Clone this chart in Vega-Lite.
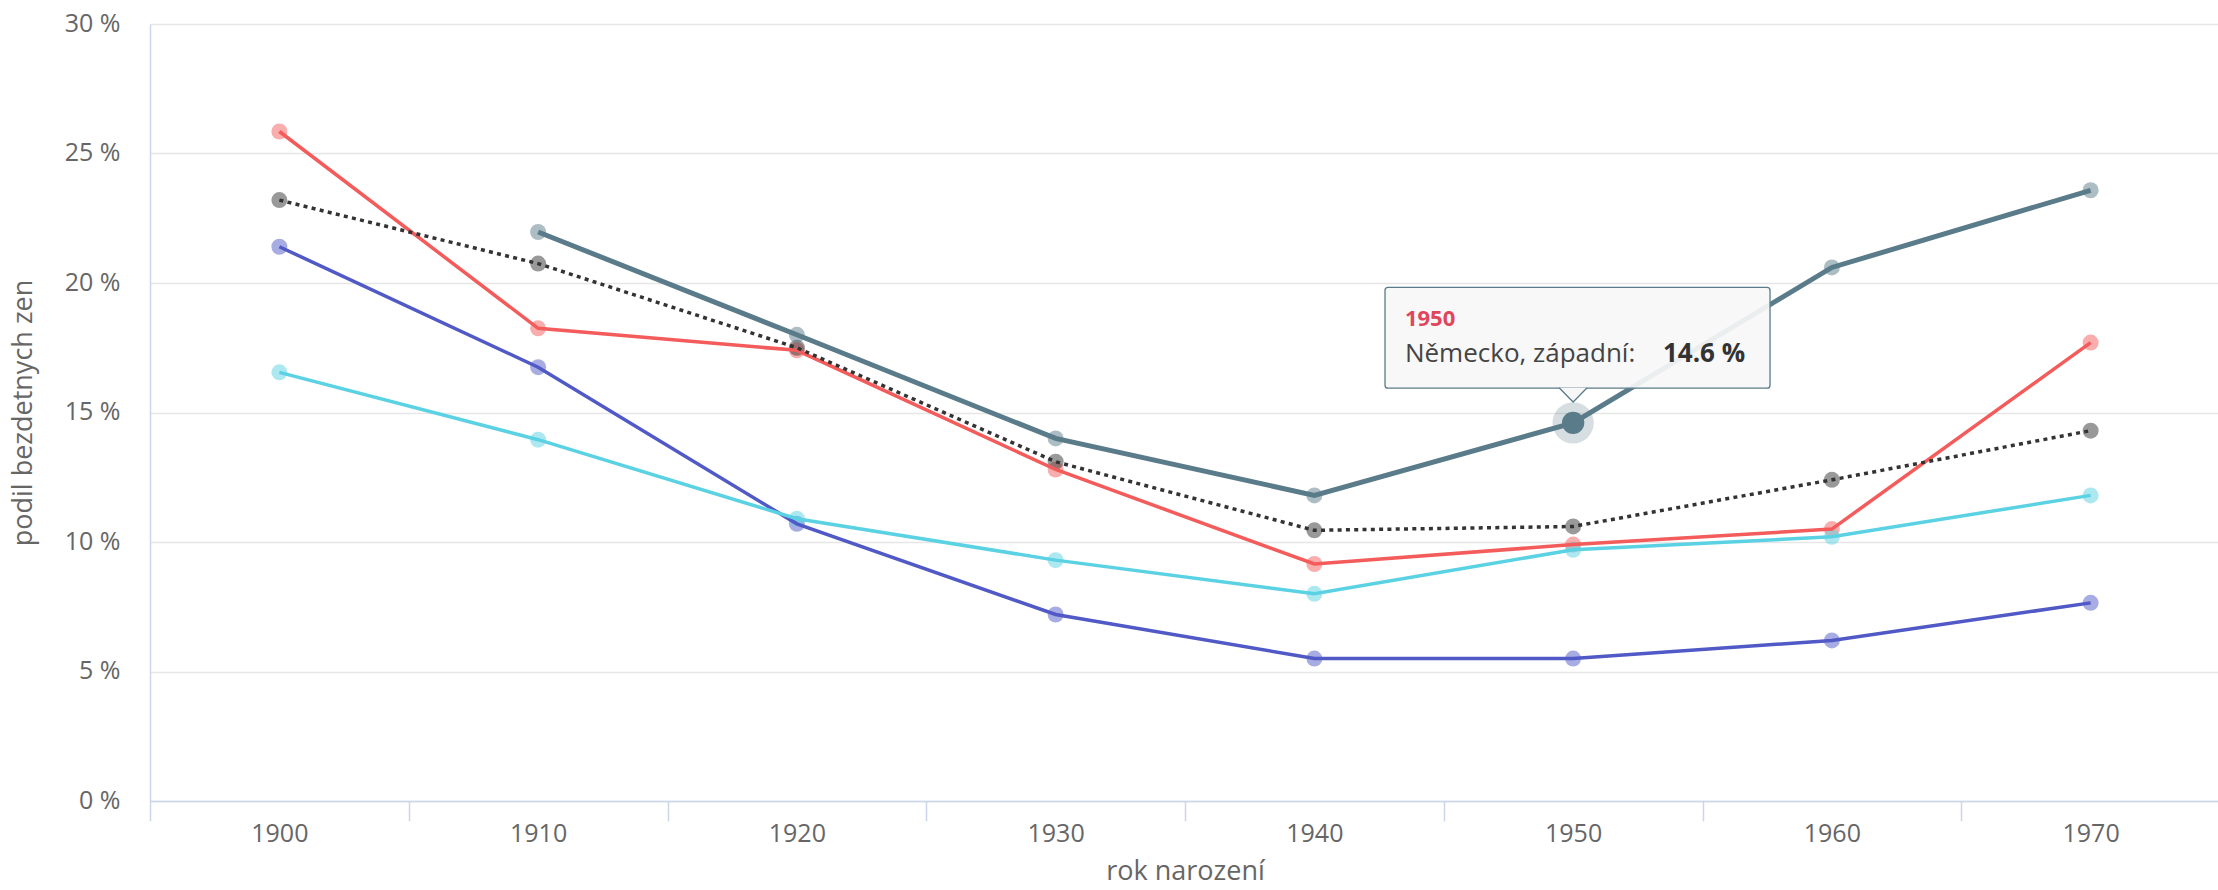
{
  "$schema": "https://vega.github.io/schema/vega-lite/v6.json",
  "width": 2070,
  "height": 777,
  "autosize": {"type": "none"},
  "padding": {"left": 150, "top": 24, "right": 0, "bottom": 89},
  "background": "#ffffff",
  "config": {
    "view": {"stroke": null},
    "font": "Open Sans, sans-serif"
  },
  "datasets": {
    "rows": [
      {"year": 1900, "country": "Francie", "value": 25.85},
      {"year": 1910, "country": "Francie", "value": 18.25},
      {"year": 1920, "country": "Francie", "value": 17.4},
      {"year": 1930, "country": "Francie", "value": 12.8},
      {"year": 1940, "country": "Francie", "value": 9.15},
      {"year": 1950, "country": "Francie", "value": 9.9},
      {"year": 1960, "country": "Francie", "value": 10.5},
      {"year": 1970, "country": "Francie", "value": 17.7},
      {"year": 1900, "country": "Česko", "value": 21.4},
      {"year": 1910, "country": "Česko", "value": 16.75},
      {"year": 1920, "country": "Česko", "value": 10.7},
      {"year": 1930, "country": "Česko", "value": 7.2},
      {"year": 1940, "country": "Česko", "value": 5.5},
      {"year": 1950, "country": "Česko", "value": 5.5},
      {"year": 1960, "country": "Česko", "value": 6.2},
      {"year": 1970, "country": "Česko", "value": 7.65},
      {"year": 1900, "country": "Švédsko", "value": 16.55},
      {"year": 1910, "country": "Švédsko", "value": 13.95},
      {"year": 1920, "country": "Švédsko", "value": 10.9},
      {"year": 1930, "country": "Švédsko", "value": 9.3},
      {"year": 1940, "country": "Švédsko", "value": 8.0},
      {"year": 1950, "country": "Švédsko", "value": 9.7},
      {"year": 1960, "country": "Švédsko", "value": 10.2},
      {"year": 1970, "country": "Švédsko", "value": 11.8},
      {"year": 1900, "country": "průměr", "value": 23.2},
      {"year": 1910, "country": "průměr", "value": 20.75},
      {"year": 1920, "country": "průměr", "value": 17.5},
      {"year": 1930, "country": "průměr", "value": 13.1},
      {"year": 1940, "country": "průměr", "value": 10.45},
      {"year": 1950, "country": "průměr", "value": 10.6},
      {"year": 1960, "country": "průměr", "value": 12.4},
      {"year": 1970, "country": "průměr", "value": 14.3},
      {"year": 1910, "country": "Německo, západní", "value": 21.97},
      {"year": 1920, "country": "Německo, západní", "value": 18.0},
      {"year": 1930, "country": "Německo, západní", "value": 14.0},
      {"year": 1940, "country": "Německo, západní", "value": 11.8},
      {"year": 1950, "country": "Německo, západní", "value": 14.6},
      {"year": 1960, "country": "Německo, západní", "value": 20.6},
      {"year": 1970, "country": "Německo, západní", "value": 23.58}
    ],
    "tipbox": [{"x": 1942.73, "x2": 1957.61, "y": 19.83, "y2": 15.94}],
    "tiparrow": [{"x": 1950, "y": 15.66}],
    "tiptext": [
      {"x": 1943.5, "y": 18.62, "label": "1950", "kind": "head"},
      {"x": 1943.5, "y": 17.27, "label": "Německo, západní:", "kind": "name"},
      {"x": 1953.47, "y": 17.27, "label": "14.6 %", "kind": "val"}
    ]
  },
  "encoding": {
    "x": {
      "field": "year", "type": "quantitative",
      "scale": {"domain": [1895, 1975], "nice": false, "zero": false},
      "axis": {
        "values": [1895, 1900, 1905, 1910, 1915, 1920, 1925, 1930, 1935, 1940, 1945, 1950, 1955, 1960, 1965, 1970, 1975],
        "labelExpr": "datum.value % 10 == 0 ? '' + datum.value : ''",
        "labelOverlap": false,
        "labelFlush": false,
        "grid": false,
        "domainColor": "#ccd6eb",
        "domainWidth": 1.5,
        "tickColor": "#ccd6eb",
        "tickWidth": 1.5,
        "tickSize": 20,
        "tickOpacity": {"condition": {"test": "datum.value % 10 == 0", "value": 0}, "value": 1},
        "labelPadding": 0,
        "labelFontSize": 25,
        "labelColor": "#666666",
        "title": "rok narození",
        "titleFontSize": 27,
        "titleFontWeight": "normal",
        "titleColor": "#666666",
        "titlePadding": 12
      }
    },
    "y": {
      "field": "value", "type": "quantitative",
      "scale": {"domain": [0, 30], "nice": false},
      "axis": {
        "values": [0, 5, 10, 15, 20, 25, 30],
        "labelExpr": "datum.value + ' %'",
        "gridColor": "#e6e6e6",
        "gridWidth": 1.5,
        "domain": true,
        "domainColor": "#ccd6eb",
        "domainWidth": 1.5,
        "ticks": false,
        "labelPadding": 30,
        "labelOffset": -1,
        "labelFontSize": 25,
        "labelColor": "#666666",
        "title": "podil bezdetnych zen",
        "titleFontSize": 27,
        "titleFontWeight": "normal",
        "titleColor": "#666666",
        "titlePadding": 27
      }
    }
  },
  "layer": [
    {
      "data": {"name": "rows"},
      "transform": [{"filter": "datum.country != 'Německo, západní'"}],
      "mark": {"type": "point", "filled": true, "size": 256, "opacity": 0.5},
      "encoding": {
        "color": {"field": "country", "type": "nominal", "legend": null,
          "scale": {"domain": ["Francie", "Česko", "Švédsko", "průměr", "Německo, západní"],
                    "range": ["#f45b5b", "#5059c5", "#5bd2e3", "#333333", "#5a7b89"]}}
      }
    },
    {
      "data": {"name": "rows"},
      "transform": [{"filter": "datum.country != 'Německo, západní' && datum.country != 'průměr'"}],
      "mark": {"type": "line", "strokeWidth": 3.5},
      "encoding": {
        "color": {"field": "country", "type": "nominal", "legend": null}
      }
    },
    {
      "data": {"name": "rows"},
      "transform": [{"filter": "datum.country == 'průměr'"}],
      "mark": {"type": "line", "strokeWidth": 3.5, "strokeDash": [4, 4.3]},
      "encoding": {
        "color": {"field": "country", "type": "nominal", "legend": null}
      }
    },
    {
      "data": {"name": "rows"},
      "transform": [{"filter": "datum.country == 'Německo, západní' && datum.year != 1950"}],
      "mark": {"type": "point", "filled": true, "size": 256, "opacity": 0.5},
      "encoding": {
        "color": {"field": "country", "type": "nominal", "legend": null}
      }
    },
    {
      "data": {"name": "rows"},
      "transform": [{"filter": "datum.country == 'Německo, západní'"}],
      "mark": {"type": "line", "strokeWidth": 5},
      "encoding": {
        "color": {"field": "country", "type": "nominal", "legend": null}
      }
    },
    {
      "data": {"name": "rows"},
      "transform": [{"filter": "datum.country == 'Německo, západní' && datum.year == 1950"}],
      "mark": {"type": "point", "filled": true, "size": 1700, "opacity": 0.25},
      "encoding": {
        "color": {"field": "country", "type": "nominal", "legend": null}
      }
    },
    {
      "data": {"name": "rows"},
      "transform": [{"filter": "datum.country == 'Německo, západní' && datum.year == 1950"}],
      "mark": {"type": "point", "filled": true, "size": 500, "opacity": 1},
      "encoding": {
        "color": {"field": "country", "type": "nominal", "legend": null}
      }
    },
    {
      "data": {"name": "tipbox"},
      "mark": {"type": "rect", "fill": "#f7f7f7", "fillOpacity": 0.92, "stroke": "#5a7b89", "strokeWidth": 1.3, "cornerRadius": 3},
      "encoding": {
        "x": {"field": "x", "type": "quantitative"},
        "x2": {"field": "x2"},
        "y": {"field": "y", "type": "quantitative"},
        "y2": {"field": "y2"}
      }
    },
    {
      "data": {"name": "tiparrow"},
      "mark": {"type": "point", "shape": "M-1,-0.55L0,0.47L1,-0.55", "filled": true, "fill": "#f7f7f7", "fillOpacity": 1, "stroke": "#5a7b89", "strokeWidth": 1.3, "size": 784, "opacity": 1},
      "encoding": {
        "x": {"field": "x", "type": "quantitative"},
        "y": {"field": "y", "type": "quantitative"}
      }
    },
    {
      "data": {"name": "tiptext"},
      "transform": [{"filter": "datum.kind == 'head'"}],
      "mark": {"type": "text", "align": "left", "baseline": "middle", "fontSize": 22, "fontWeight": "bold", "color": "#e0455c"},
      "encoding": {
        "x": {"field": "x", "type": "quantitative"},
        "y": {"field": "y", "type": "quantitative"},
        "text": {"field": "label"}
      }
    },
    {
      "data": {"name": "tiptext"},
      "transform": [{"filter": "datum.kind == 'name'"}],
      "mark": {"type": "text", "align": "left", "baseline": "middle", "fontSize": 26, "color": "#444444"},
      "encoding": {
        "x": {"field": "x", "type": "quantitative"},
        "y": {"field": "y", "type": "quantitative"},
        "text": {"field": "label"}
      }
    },
    {
      "data": {"name": "tiptext"},
      "transform": [{"filter": "datum.kind == 'val'"}],
      "mark": {"type": "text", "align": "left", "baseline": "middle", "fontSize": 26, "fontWeight": "bold", "color": "#333333"},
      "encoding": {
        "x": {"field": "x", "type": "quantitative"},
        "y": {"field": "y", "type": "quantitative"},
        "text": {"field": "label"}
      }
    }
  ]
}
